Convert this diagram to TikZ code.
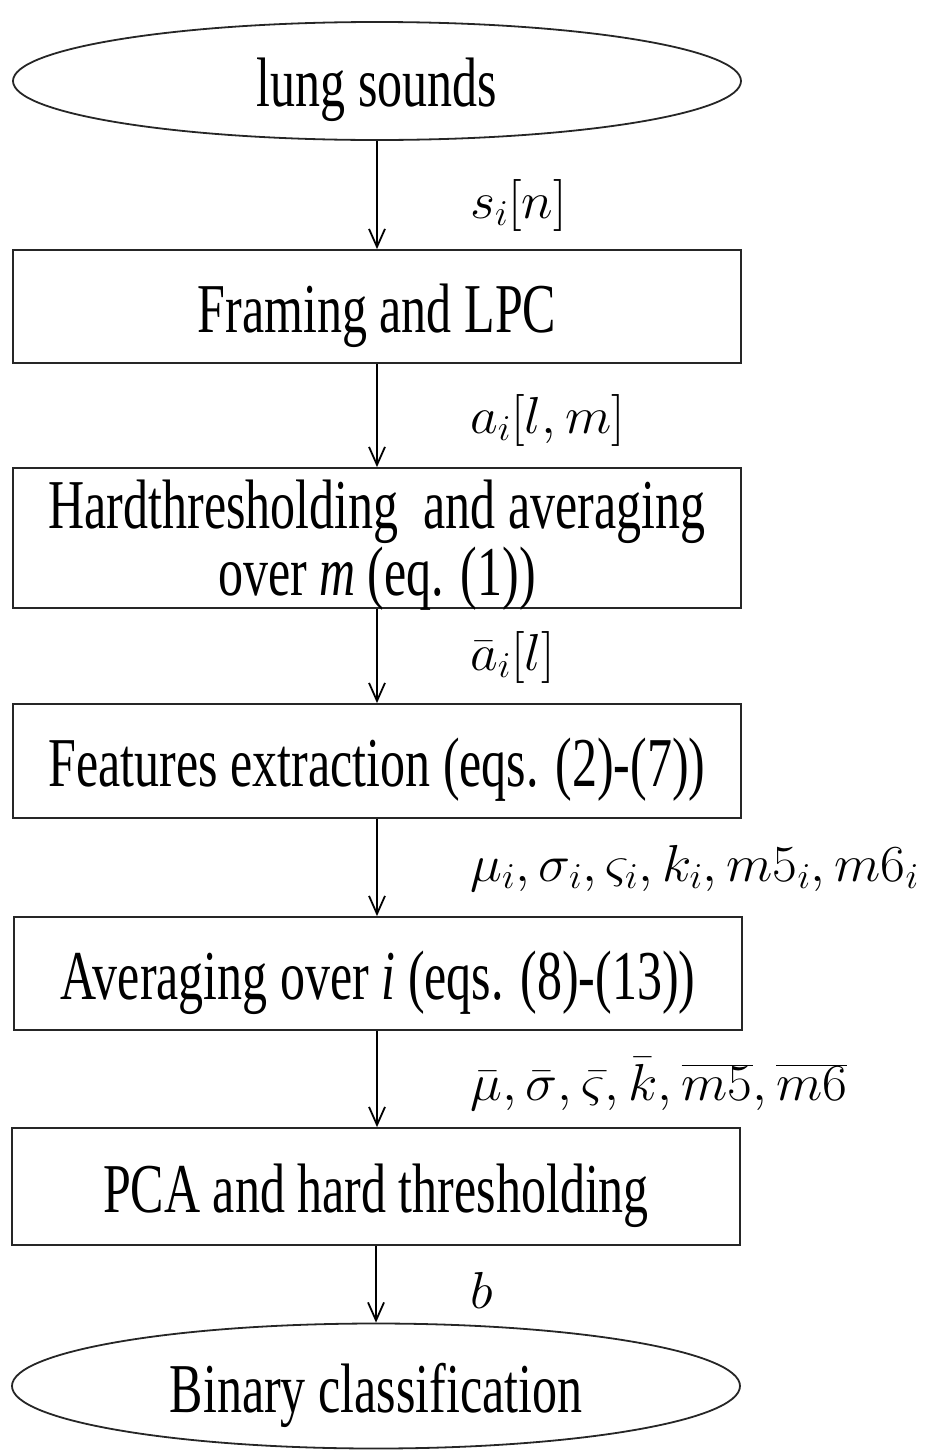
\RequirePackage{fix-cm}
\documentclass[tikz,border=0pt]{standalone}
\usepackage{fontspec}
\setmainfont{Liberation Serif}
\usetikzlibrary{shapes.geometric,arrows.meta}
\newcommand\vst[1]{\raisebox{-9pt}[\height][\depth]{\scalebox{1}[1.4]{#1}}}
\newcommand\vsm[1]{\scalebox{1.35}[1.3]{#1}}
\tikzset{
  stepbox/.style={draw=black!85, line width=1.8pt, rectangle, minimum width=728pt, inner sep=0pt, font=\fontsize{50}{43}\selectfont},
  termnode/.style={draw=black!85, line width=1.8pt, ellipse, minimum width=728pt, inner sep=0pt, font=\fontsize{50}{43}\selectfont},
  flow/.style={draw=black, line width=1.8pt, -{Straight Barb[length=18pt,width=16pt,line width=1.8pt]}},
  sig/.style={anchor=west, font=\fontsize{40}{44}\selectfont, inner sep=0pt}
}
\begin{document}
\begin{tikzpicture}[x=1pt,y=-1pt]
\useasboundingbox (0,0) rectangle (925,1451);
\node[termnode, minimum height=118pt] (e1) at (377,81) {\vst{lung sounds}};
\node[stepbox, minimum height=113pt] (b1) at (377,306.5) {\vst{Framing and LPC}};
\node[stepbox, minimum height=140pt] (b2) at (377,538) {\vst{\begin{tabular}{@{}c@{}}Hardthresholding\ \ and averaging\\over \textit{m} (eq. (1))\end{tabular}}};
\node[stepbox, minimum height=114pt] (b3) at (377,761) {\vst{Features extraction (eqs. (2)-(7))}};
\node[stepbox, minimum height=113pt] (b4) at (378,973.5) {\vst{Averaging over \textit{i} (eqs. (8)-(13))}};
\node[stepbox, minimum height=117pt] (b5) at (376,1186.5) {\vst{PCA and hard thresholding}};
\node[termnode, minimum height=125pt] (e2) at (376,1386) {\vst{Binary classification}};

\node[sig] (l1) at (470,205) {\vsm{$s_i[n]$}};
\node[sig] (l2) at (470,420) {\vsm{$a_i[l,m]$}};
\node[sig] (l3) at (470,657) {\vsm{$\bar{a}_i[l]$}};
\node[sig] (l4) at (470,868) {\vsm{$\mu_i, \sigma_i, \varsigma_i, k_i, m5_i, m6_i$}};
\node[sig] (l5) at (470,1084) {\vsm{$\bar{\mu}, \bar{\sigma}, \bar{\varsigma}, \bar{k}, \overline{m5}, \overline{m6}$}};
\node[sig] (l6) at (470,1290) {\vsm{$b$}};

\draw[flow] (e1.south) -- (e1.south |- b1.north);
\draw[flow] (b1.south) -- (b1.south |- b2.north);
\draw[flow] (b2.south) -- (b2.south |- b3.north);
\draw[flow] (b3.south) -- (b3.south |- b4.north);
\draw[flow] (b4.south -| b3.south) -- (b3.south |- b5.north);
\draw[flow] (b5.south) -- (b5.south |- e2.north);
\end{tikzpicture}
\end{document}
